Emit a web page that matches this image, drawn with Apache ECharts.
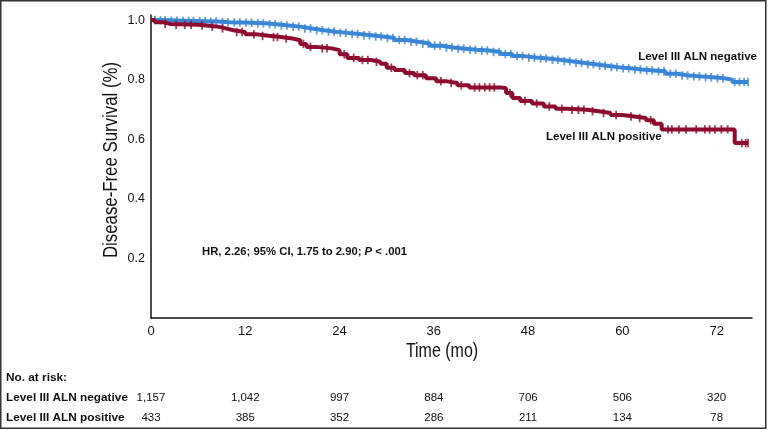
<!DOCTYPE html>
<html>
<head>
<meta charset="utf-8">
<script src="https://cdn.jsdelivr.net/npm/echarts@6/dist/echarts.min.js"></script>
<style>
html,body{margin:0;padding:0;background:#fff;}
#c{width:768px;height:430px;}
</style>
</head>
<body>
<div id="c"></div>
<script>
// ---- data ----
const months = [0, 12, 24, 36, 48, 60, 72];
const atRiskNeg = ['1,157', '1,042', '997', '884', '706', '506', '320'];
const atRiskPos = ['433', '385', '352', '286', '211', '134', '78'];

const negTime = [0, 1, 2.5, 4, 5.5, 7, 8.5, 10, 11.5, 13, 14.5, 16, 17.5, 19, 20.5, 22, 23.5, 25, 26.5, 28, 29.5, 31, 32.5, 34, 35.5, 37, 38.5, 40, 41.5, 43, 44.5, 46, 47.5, 49, 50.5, 52, 53.5, 55, 56.5, 58, 59.5, 61, 62.5, 64, 65.5, 67, 68.5, 70, 71.5, 73, 74, 76];
const negSurv = [1.0, 0.999, 0.998, 0.997, 0.996, 0.995, 0.993, 0.992, 0.991, 0.989, 0.986, 0.982, 0.978, 0.972, 0.966, 0.961, 0.957, 0.953, 0.949, 0.945, 0.940, 0.933, 0.927, 0.921, 0.914, 0.908, 0.904, 0.900, 0.898, 0.893, 0.886, 0.879, 0.874, 0.871, 0.867, 0.862, 0.857, 0.852, 0.847, 0.842, 0.838, 0.834, 0.831, 0.828, 0.820, 0.814, 0.811, 0.808, 0.805, 0.800, 0.792, 0.792];

const posTime = [0, 0.5, 1.5, 2.5, 6, 7, 8.5, 9.5, 10.5, 12, 13.5, 15, 16.5, 18, 19, 19.8, 21, 23, 24, 25, 26.5, 28, 29.2, 30, 31, 32.3, 33.5, 35, 36.3, 37.5, 39, 40.5, 44.5, 45.2, 46, 47, 48.5, 50, 51.5, 53, 55.5, 57, 58.5, 60, 61.5, 63, 64, 65, 74.3, 76];
const posSurv = [1.0, 0.993, 0.987, 0.984, 0.982, 0.978, 0.972, 0.966, 0.960, 0.952, 0.947, 0.943, 0.938, 0.932, 0.920, 0.910, 0.905, 0.899, 0.885, 0.873, 0.866, 0.860, 0.853, 0.840, 0.832, 0.822, 0.815, 0.805, 0.795, 0.789, 0.781, 0.774, 0.771, 0.755, 0.738, 0.728, 0.720, 0.710, 0.702, 0.699, 0.694, 0.688, 0.681, 0.676, 0.671, 0.664, 0.652, 0.633, 0.587, 0.587];

const negCensor = [0.5, 1.2, 1.8, 2.6, 3.3, 4.1, 4.8, 5.4, 6.2, 6.9, 7.6, 8.3, 9.1, 9.8, 10.6, 11.3, 12.1, 12.8, 13.6, 14.3, 15.1, 15.8, 16.6, 17.3, 18.1, 18.8, 19.6, 20.3, 21.1, 21.8, 22.6, 23.3, 24.1, 24.8, 25.6, 26.3, 27.1, 27.8, 28.6, 29.3, 30.1, 30.8, 31.6, 32.3, 33.1, 33.8, 34.6, 35.3, 36.1, 36.8, 37.6, 38.3, 39.1, 39.8, 40.6, 41.3, 42.1, 42.8, 43.6, 44.3, 45.1, 45.8, 46.6, 47.3, 48.1, 48.8, 49.6, 50.3, 51.1, 51.8, 52.6, 53.3, 54.1, 54.8, 55.6, 56.3, 57.1, 57.8, 58.6, 59.3, 60.1, 60.8, 61.6, 62.3, 63.1, 63.8, 64.6, 65.3, 66.1, 66.8, 67.6, 68.3, 69.1, 69.8, 70.6, 71.3, 72.1, 72.8, 74.3, 74.9, 75.5, 76];
const posCensor = [1.8, 3.2, 4.3, 5.1, 6.5, 7.8, 9.1, 10.9, 11.6, 13.1, 14.2, 15.6, 16.1, 17.2, 19.4, 20.3, 21.8, 22.4, 24.6, 25.8, 26.9, 27.6, 28.7, 30.6, 32.9, 33.9, 34.6, 36.9, 38.2, 39.5, 41.2, 41.8, 42.5, 43.1, 43.7, 45.7, 47.6, 49.1, 50.7, 52.3, 53.6, 54.4, 55.1, 56.2, 57.6, 59.2, 61.1, 62.2, 63.6, 65.8, 66.3, 67.2, 68.1, 69.4, 70.5, 71.1, 71.8, 72.6, 73.4, 75.2, 75.7, 76];

const negLabel = 'Level III ALN negative';
const posLabel = 'Level III ALN positive';
const yTitle = 'Disease-Free Survival (%)';
const xTitle = 'Time (mo)';
const hrText = 'HR, 2.26; 95% CI, 1.75 to 2.90; ';

// ---- helpers ----
function pairs(t, s) { return t.map((v, i) => [v, s[i]]); }
function stepAt(t, s, x) { let v = s[0]; for (let i = 0; i < t.length; i++) { if (t[i] <= x) v = s[i]; } return v; }
function censorPts(ct, t, s) { return ct.map(x => [x, stepAt(t, s, x)]); }

const BLUE = '#3a86d6';
const RED = '#8c0b2f';
const TXT = '#111';
const SANS = '"Liberation Sans", Arial, Helvetica, sans-serif';

const X_MAX = 76.5;

function riskAxis(arr, margin) {
  return {
    type: 'value', gridIndex: 0, position: 'bottom', min: 0, max: X_MAX, interval: 12,
    axisLine: { show: false }, axisTick: { show: false }, splitLine: { show: false },
    axisLabel: {
      margin: margin, fontFamily: SANS, fontSize: 11.5, color: TXT,
      showMaxLabel: false,
      formatter: v => { const i = months.indexOf(v); return i >= 0 ? arr[i] : ''; }
    }
  };
}

const chart = echarts.init(document.getElementById('c'), null, { renderer: 'canvas' });
chart.setOption({
  animation: false,
  backgroundColor: '#fff',
  grid: { left: 151, right: 16, top: 15, bottom: 112, containLabel: false },
  xAxis: [
    {
      type: 'value', min: 0, max: X_MAX, interval: 12,
      axisLine: { lineStyle: { color: '#111', width: 1.5 } },
      axisTick: { show: false }, splitLine: { show: false },
      axisLabel: {
        margin: 7, fontFamily: SANS, fontSize: 13, color: TXT, showMaxLabel: false,
        formatter: v => (months.indexOf(v) >= 0 ? String(v) : '')
      }
    },
    riskAxis(atRiskNeg, 74),
    riskAxis(atRiskPos, 94)
  ],
  yAxis: {
    type: 'value', min: 0, max: 1.017, interval: 0.2,
    axisLine: { show: true, lineStyle: { color: '#111', width: 1.5 } },
    axisTick: { show: false }, splitLine: { show: false },
    axisLabel: {
      margin: 6, fontFamily: SANS, fontSize: 12.5, color: TXT,
      formatter: v => { const k = Math.round(v * 5); return (k > 0 && Math.abs(v * 5 - k) < 1e-6) ? v.toFixed(1) : ''; }
    }
  },
  series: [
    { type: 'line', name: negLabel, data: pairs(negTime, negSurv), step: 'end', showSymbol: false, lineStyle: { color: BLUE, width: 4 }, z: 3 },
    { type: 'line', name: posLabel, data: pairs(posTime, posSurv), step: 'end', showSymbol: false, lineStyle: { color: RED, width: 4 }, z: 4 },
    { type: 'scatter', data: censorPts(negCensor, negTime, negSurv), symbol: 'rect', symbolSize: [1.8, 8.5], itemStyle: { color: BLUE }, z: 3 },
    { type: 'scatter', data: censorPts(posCensor, posTime, posSurv), symbol: 'rect', symbolSize: [1.8, 8.5], itemStyle: { color: RED }, z: 4 }
  ],
  graphic: [
    { type: 'rect', shape: { x: 0.75, y: 0.75, width: 765, height: 427.5 }, style: { fill: 'none', stroke: '#333', lineWidth: 1.5 }, silent: true },
    { type: 'text', x: 111, y: 160, rotation: Math.PI / 2, scaleX: 0.82, style: { text: yTitle, fontFamily: SANS, fontSize: 20.5, fill: TXT, align: 'center', verticalAlign: 'middle' } },
    { type: 'text', x: 442, y: 352, scaleX: 0.82, style: { text: xTitle, fontFamily: SANS, fontSize: 19.5, fill: TXT, align: 'center', verticalAlign: 'middle' } },
    { type: 'text', x: 757, y: 57, style: { text: negLabel, fontFamily: SANS, fontWeight: 'bold', fontSize: 11.5, fill: TXT, align: 'right', verticalAlign: 'middle' } },
    { type: 'text', x: 546, y: 137, style: { text: posLabel, fontFamily: SANS, fontWeight: 'bold', fontSize: 11.5, fill: TXT, align: 'left', verticalAlign: 'middle' } },
    { type: 'text', x: 202, y: 252, style: {
        text: '{b|' + hrText + '}{i|P}{b| < .001}', align: 'left', verticalAlign: 'middle',
        rich: {
          b: { fontFamily: SANS, fontWeight: 'bold', fontSize: 11.3, fill: TXT, color: TXT },
          i: { fontFamily: SANS, fontWeight: 'bold', fontStyle: 'italic', fontSize: 11.3, fill: TXT, color: TXT }
        } } },
    { type: 'text', x: 6, y: 378, style: { text: 'No. at risk:', fontFamily: SANS, fontWeight: 'bold', fontSize: 11.8, fill: TXT, align: 'left', verticalAlign: 'middle' } },
    { type: 'text', x: 6, y: 398, style: { text: negLabel, fontFamily: SANS, fontWeight: 'bold', fontSize: 11.8, fill: TXT, align: 'left', verticalAlign: 'middle' } },
    { type: 'text', x: 6, y: 418, style: { text: posLabel, fontFamily: SANS, fontWeight: 'bold', fontSize: 11.8, fill: TXT, align: 'left', verticalAlign: 'middle' } }
  ]
});
</script>
</body>
</html>
